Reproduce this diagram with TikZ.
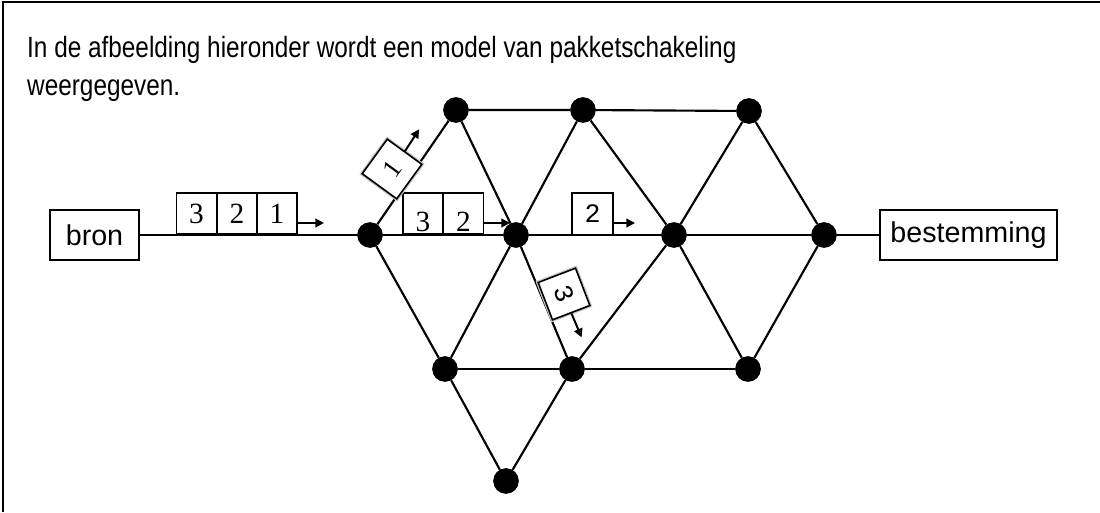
\documentclass[tikz,border=0pt]{standalone}
\usepackage{fontspec}
\setmainfont{Liberation Serif}
\newfontfamily\arial{Liberation Sans}
\newfontfamily\pixfont{Liberation Mono}
\usetikzlibrary{arrows.meta,calc}

\begin{document}
\begin{tikzpicture}[x=0.75pt,y=-0.75pt,
  hub/.style={circle,fill=black,inner sep=0pt,minimum size=19pt},
  link/.style={line width=1.6pt},
  endbox/.style={draw,line width=1.3pt,inner sep=0pt,minimum height=37.5pt,
    font=\arial\fontsize{21.5pt}{24pt}\selectfont},
  cell/.style={draw,line width=1.3pt,fill=white,inner sep=0pt,outer sep=0pt,
    minimum width=30pt,minimum height=31pt,
    font=\fontsize{22pt}{24pt}\selectfont},
  tilted/.style={draw,line width=1.2pt,fill=white,inner sep=0pt,
    minimum size=31pt,preaction={draw=gray!45,line width=3pt}},
  move/.style={line width=1.5pt,-{Triangle[length=6.5pt,width=6.5pt]}},
  caption/.style={anchor=base west,inner sep=0pt,xscale=0.83,transform shape,
    font=\arial\fontsize{22pt}{24pt}\selectfont}]

\useasboundingbox (0,0) rectangle (1100,512);

% frame: top and left edge only
\draw[line width=1.5pt] (3,512) -- (3,2) -- (1100,2);

% caption
\node[caption] (cap1) at (27,57)
  {In de afbeelding hieronder wordt een model van pakketschakeling};
\node[caption] (cap2) at (27,95) {weergegeven.};

% source and destination
\node[endbox,minimum width=66.75pt] (bron) at (94.5,235) {bron};
\node[endbox,minimum width=132.75pt] (best) at (968.5,235) {bestemming};

% switching nodes
\node[hub] (t1) at (456,110) {};
\node[hub] (t2) at (583,110) {};
\node[hub] (t3) at (749,111) {};
\node[hub] (m1) at (370,235) {};
\node[hub] (m2) at (516,235) {};
\node[hub] (m3) at (674,235) {};
\node[hub] (m4) at (824,235) {};
\node[hub] (b1) at (445,369) {};
\node[hub] (b2) at (572,369) {};
\node[hub] (b3) at (748,369) {};
\node[hub] (z)  at (506,481) {};

% links
\draw[link] (bron.east) -- (m1) -- (m2) -- (m3) -- (m4) -- (best.west);
\draw[link] (m1) -- (t1) -- (t2) -- (t3);
\draw[link] (t1) -- (m2) -- (t2) -- (m3) -- (t3) -- (m4);
\draw[link] (m1) -- (b1) -- (m2) -- (b2) -- (m3) -- (b3) -- (m4);
\draw[link] (b1) -- (b2) -- (b3);
\draw[link] (b1) -- (z) -- (b2);
\foreach \n in {t1,t2,t3,m1,m2,m3,m4,b1,b2,b3,z} \node[hub] at (\n) {};

% packets 3 2 1 leaving the source
\node[cell] (q3) at (196.5,213.5) {3};
\node[cell] (q2) at (237,213.5) {2};
\node[cell] (q1) at (277,213.5) {1};
\coordinate (q1tip) at (324,223);
\draw[move] (q1.east |- q1tip) -- (q1tip);

% packets 3 2 on the middle line, digits sitting low in the cells
\node[cell] (r3) at (423,213.5) {\smash{\raisebox{-13.5pt}{3}}};
\node[cell] (r2) at (463.5,213.5) {\smash{\raisebox{-13.5pt}{2}}};
\coordinate (r2tip) at (510,223);
\draw[move] (r2.east |- r2tip) -- (r2tip);

% packet 2 further on
\node[draw,line width=1.2pt,fill=white,inner sep=0pt,minimum width=30.75pt,
  minimum height=31.5pt,font=\pixfont\fontsize{20pt}{22pt}\selectfont]
  (s2) at (592.5,214) {2};
\coordinate (s2tip) at (635,223);
\draw[move] (s2.east |- s2tip) -- (s2tip);

% packet 1 on the upper route
\node[tilted,rotate=54,minimum size=32pt,font=\fontsize{20pt}{22pt}\selectfont]
  (p1) at (392,169) {1};
\draw[move] (p1.east) -- ++(-57:26);

% packet 3 on the lower route
\node[tilted,rotate=-69,minimum size=30pt,
  font=\pixfont\fontsize{20pt}{22pt}\selectfont] (p3) at (564,294) {3};
\draw[move] (p3.east) -- ++(67:26);

\end{tikzpicture}
\end{document}
